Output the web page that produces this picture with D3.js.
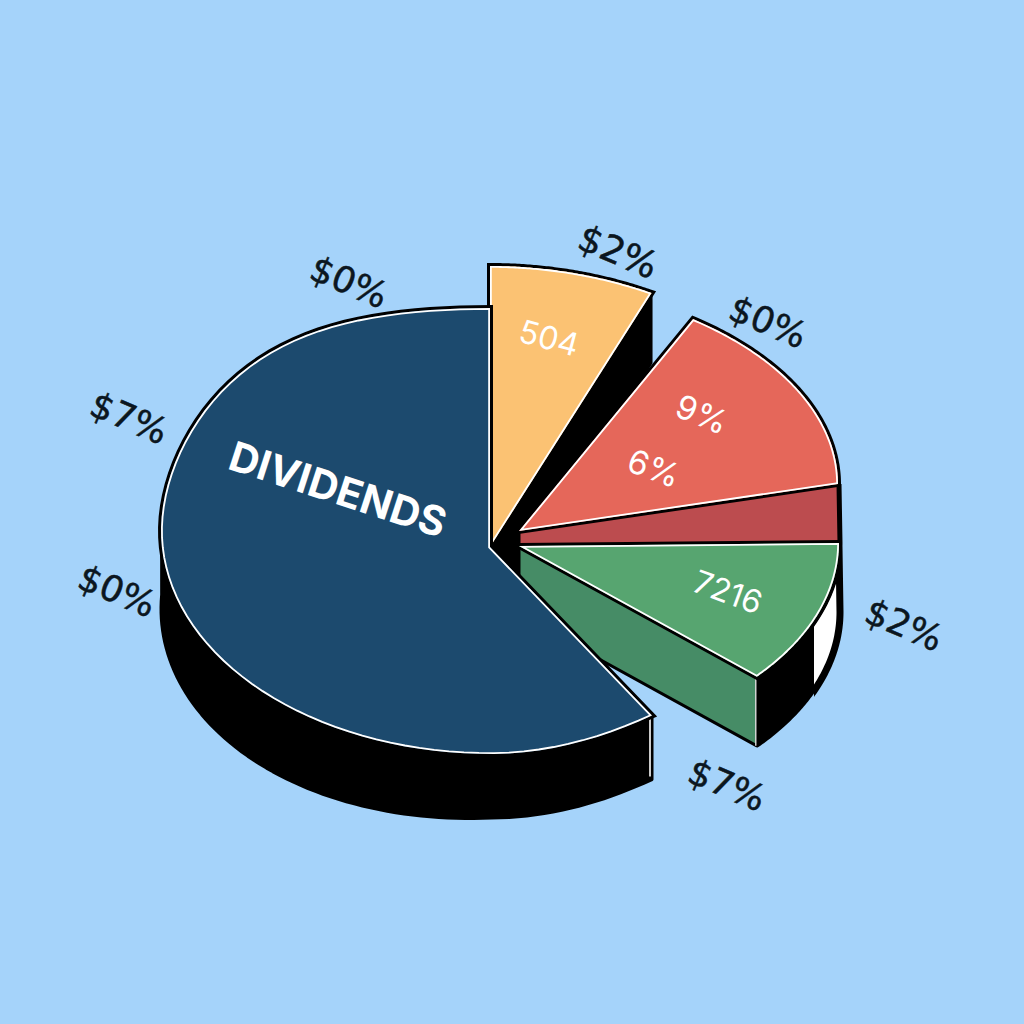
<!DOCTYPE html>
<html><head><meta charset="utf-8">
<style>html,body{margin:0;padding:0;background:#A5D3FA}svg{display:block}</style>
<script src="https://cdn.jsdelivr.net/npm/d3@7"></script>
</head><body><svg id="c" width="1024" height="1024"></svg>
<script>
// ---- data ----
const sliceNames = ["Orange","gapA","Red","Green","gapB","Navy"];
const sliceValues = [25.3,10.9,53.8,42,18.5,209.5];
const calloutTexts = ["$0%","$2%","$0%","$7%","$0%","$2%","$7%"];
const innerTexts = ["504","9%","6%","7216","DIVIDENDS"];

// ---- layout (separate from data) ----
const colors = {bg:"#A5D3FA",Navy:"#1C4A6E",Orange:"#FBC273",Red:"#E5675A",Maroon:"#BC4C4F",Green:"#57A570",DarkGreen:"#468C66"};
const rings = {
  Navy:  {cx:490,cy:531,rx:329,ry:223,warp:13,ax:490,ay:547},
  Orange:{cx:490,cy:547,rx:378,ry:281,warp:0, ax:490,ay:547},
  Red:   {cx:484,cy:484,rx:354,ry:204.4,warp:0,ax:519,ay:531},
  Green: {cx:519,cy:543,rx:320,ry:200,warp:0, ax:519,ay:546}
};
const depth = {Navy:64,NavySag:14,Orange:70,Green:69};
const calloutPlace = [[349,282,23,36],[618,252,23,37],[768,322,23,36],[129,418,23,36],[117,591,23,36],[904,625,23,36],[727,785,23,36]];
const innerPlace = [[549,338,15,32,400],[702,414,22,33,400],[654,468,20,33,400],[728,592,20,32,400],[338,489,18,41,650]];

const svg = d3.select("#c");
svg.append("rect").attr("width",1024).attr("height",1024).attr("fill",colors.bg);
const defs = svg.append("defs");

const arcs = d3.pie().sort(null).value(d=>d.v).startAngle(0).endAngle(2*Math.PI)(
  sliceNames.map((n,i)=>({n,v:sliceValues[i]})));
const arcOf = Object.fromEntries(arcs.map(a=>[a.data.n,a]));

const P = (r,t,dy=0,grow=0)=>{
  const s2=Math.sin(2*t);
  return [r.cx+(r.rx+grow)*Math.sin(t),
          r.cy-r.ry*Math.cos(t)+r.warp*Math.min(0,s2)*Math.abs(s2)+dy];
};
const arcPts=(r,t0,t1,dy=0,grow=0)=>{
  const s=d3.scaleLinear().domain([0,80]).range([t0,t1]);
  return d3.range(81).map(i=>P(r,s(i),typeof dy==="function"?dy(s(i)):dy,grow));
};
const line=d3.line();
const closed=pts=>line(pts)+"Z";
let uid=0;
function wedge(d,fill){
  const id="cp"+(uid++);
  defs.append("clipPath").attr("id",id).append("path").attr("d",d);
  svg.append("path").attr("d",d).attr("fill","none").attr("stroke","#000").attr("stroke-width",6).attr("stroke-linejoin","miter");
  svg.append("path").attr("d",d).attr("fill",fill);
  svg.append("path").attr("d",d).attr("fill","none").attr("stroke","#fff").attr("stroke-width",3.6).attr("clip-path",`url(#${id})`);
}
const plain=(d,fill,sw=3)=>svg.append("path").attr("d",d).attr("fill",fill).attr("stroke","#000").attr("stroke-width",sw).attr("stroke-linejoin","round");

const oA=arcOf.Orange,rA=arcOf.Red,gA=arcOf.Green,nA=arcOf.Navy;
const O=rings.Orange,R=rings.Red,G=rings.Green,N=rings.Navy;

// orange slice: black side wall
const oEnd=P(O,oA.endAngle);
plain(closed([oEnd,[oEnd[0],oEnd[1]+depth.Orange],[O.ax,O.ay+depth.Orange],[O.ax,O.ay]]),"#000",2);

// green rim wall (black, with white stripe), running up to the red slice's corner
const redEnd=P(R,rA.endAngle);
const greenArc=arcPts(G,gA.startAngle,gA.endAngle);
const rim=arcPts(G,gA.startAngle,gA.endAngle,depth.Green,1);
const sideD=closed([redEnd,...rim,...greenArc.slice().reverse()]);
plain(sideD,"#000",3);
defs.append("clipPath").attr("id","stripe").append("rect").attr("x",814).attr("y",0).attr("width",210).attr("height",1024);
svg.append("path").attr("d",sideD).attr("fill","#fff").attr("stroke","#000").attr("stroke-width",7).attr("clip-path","url(#stripe)");

// dark green cut face
const gEnd=P(G,gA.endAngle);
const gFace=closed([[G.ax,G.ay],gEnd,[gEnd[0],gEnd[1]+depth.Green],[G.ax,G.ay+depth.Green]]);
plain(gFace,colors.DarkGreen,3);
svg.append("path").attr("d",line([gEnd,[gEnd[0],gEnd[1]+depth.Green]])).attr("stroke","#fff").attr("stroke-width",1.2).attr("transform","translate(-1,0)");

// maroon cut face
plain(closed([[R.ax,R.ay],redEnd,P(G,gA.startAngle),[G.ax,G.ay]]),colors.Maroon,3);

// green, red, orange tops
wedge(closed([[G.ax,G.ay],...greenArc]),colors.Green);
wedge(closed([[R.ax,R.ay],...arcPts(R,rA.startAngle,rA.endAngle)]),colors.Red);
wedge(closed([[O.ax,O.ay],...arcPts(O,oA.startAngle,oA.endAngle)]),colors.Orange);

// navy wall: its lower edge sags a little further on the left
const nFront=arcPts(N,nA.startAngle,1.52*Math.PI);
const nBack=arcPts(N,nA.startAngle,1.52*Math.PI,t=>depth.Navy+depth.NavySag*Math.max(0,-Math.sin(t)));
plain(closed([...nFront,...nBack.slice().reverse()]),"#000",3);
const nEnd=nFront[0];
svg.append("path").attr("d",line([[nEnd[0]-2,nEnd[1]+3],[nEnd[0]-2,nEnd[1]+depth.Navy-3]])).attr("stroke","#fff").attr("stroke-width",1.6);
// navy top
wedge(closed([[N.ax,N.ay],...arcPts(N,nA.startAngle,nA.endAngle)]),colors.Navy);

// texts
svg.selectAll("text.c").data(calloutTexts).join("text").attr("class","c")
  .attr("transform",(d,i)=>`translate(${calloutPlace[i][0]},${calloutPlace[i][1]}) rotate(${calloutPlace[i][2]})`)
  .attr("text-anchor","middle").attr("dominant-baseline","central")
  .attr("font-family","'DejaVu Sans',sans-serif").attr("font-size",(d,i)=>calloutPlace[i][3])
  .attr("fill","#0b1620").attr("stroke","#0b1620").attr("stroke-width",0.5).text(d=>d);
svg.selectAll("text.i").data(innerTexts).join("text").attr("class","i")
  .attr("transform",(d,i)=>`translate(${innerPlace[i][0]},${innerPlace[i][1]}) rotate(${innerPlace[i][2]})`)
  .attr("text-anchor","middle").attr("dominant-baseline","central")
  .attr("font-family","Inter,sans-serif").attr("font-size",(d,i)=>innerPlace[i][3]).attr("font-weight",(d,i)=>innerPlace[i][4]).attr("fill","#fff").text(d=>d);
</script></body></html>
